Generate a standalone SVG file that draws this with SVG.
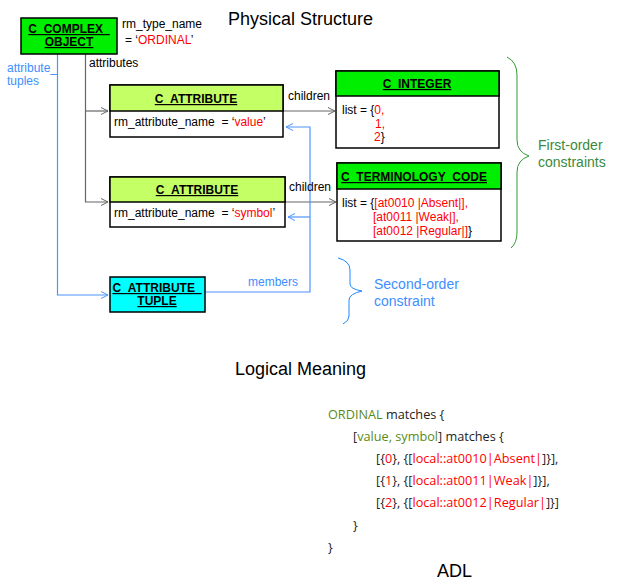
<svg xmlns="http://www.w3.org/2000/svg" width="621" height="586" viewBox="0 0 621 586">
<defs>
<marker id="ag" markerWidth="10" markerHeight="10" refX="8" refY="4" orient="auto" markerUnits="userSpaceOnUse"><path d="M1,0.5 L8,4 L1,7.5" fill="none" stroke="#666" stroke-width="1"/></marker>
<marker id="ab" markerWidth="10" markerHeight="10" refX="8" refY="4" orient="auto" markerUnits="userSpaceOnUse"><path d="M1,0.5 L8,4 L1,7.5" fill="none" stroke="#4d94ff" stroke-width="1"/></marker>
</defs>
<style>
text{font-family:"Liberation Sans",Arial,sans-serif;white-space:pre;}
.t{font-size:12px;fill:#000;}
.h{font-size:12px;font-weight:bold;text-decoration:underline;text-anchor:middle;fill:#000;}
.r{fill:#ff0000;}
.bl{fill:#3d8eff;}
.box{stroke:#000;stroke-width:1.5;}
.title{font-size:18px;fill:#000;}
.adl{font-family:"Open Sans","Noto Sans",sans-serif;font-size:12.7px;fill:#222;}
.g{fill:#5a8a1a;}
.gl{fill:none;stroke:#666;stroke-width:1.2;}
.bll{fill:none;stroke:#4d94ff;stroke-width:1.2;}
</style>
<rect width="621" height="586" fill="#fff"/>
<text class="title" x="228" y="25">Physical Structure</text>
<text class="title" x="235" y="375">Logical Meaning</text>
<text class="title" x="437" y="577">ADL</text>
<g id="connectors">
<path class="gl" d="M85.5,54 V202 H108" marker-end="url(#ag)"/>
<path class="gl" d="M85.5,111 H108" marker-end="url(#ag)"/>
<path class="gl" d="M283,111 H335" marker-end="url(#ag)"/>
<path class="gl" d="M285,202 H336" marker-end="url(#ag)"/>
<path class="bll" d="M57.5,54 V295 H108" marker-end="url(#ab)"/>
<path class="bll" d="M205,292 H310 V127 H286" marker-end="url(#ab)"/>
<path class="bll" d="M310,217 H288" marker-end="url(#ab)"/>
<text class="t" x="89" y="67">attributes</text>
<text class="t bl" x="7" y="72">attribute_</text>
<text class="t bl" x="7" y="85">tuples</text>
<text class="t" x="288" y="100">children</text>
<text class="t" x="289" y="191">children</text>
<text class="t bl" x="248" y="286">members</text>
</g>
<g id="c_complex_object">
<rect class="box" x="21" y="18" width="96" height="36" fill="#00ee00"/>
<text class="h" x="69" y="33">C_COMPLEX_</text>
<text class="h" x="69" y="46">OBJECT</text>
<text class="t" x="122" y="28">rm_type_name</text>
<text class="t" x="125" y="44">= ‘<tspan class="r">ORDINAL</tspan>’</text>
</g>
<g id="c_attribute_value">
<rect class="box" x="110" y="85" width="173" height="52" fill="#fff"/>
<rect class="box" x="110" y="85" width="173" height="26" fill="#c4ff66"/>
<text class="h" x="196" y="103">C_ATTRIBUTE</text>
<text class="t" x="114" y="126">rm_attribute_name  = ‘<tspan class="r">value</tspan>’</text>
</g>
<g id="c_attribute_symbol">
<rect class="box" x="110" y="177" width="175" height="50" fill="#fff"/>
<rect class="box" x="110" y="177" width="175" height="25" fill="#c4ff66"/>
<text class="h" x="197" y="194">C_ATTRIBUTE</text>
<text class="t" x="114" y="217">rm_attribute_name  = ‘<tspan class="r">symbol</tspan>’</text>
</g>
<g id="c_attribute_tuple">
<rect class="box" x="110" y="277" width="95" height="35" fill="#00ffff"/>
<text class="h" x="157" y="292">C_ATTRIBUTE_</text>
<text class="h" x="157" y="305">TUPLE</text>
</g>
<g id="c_integer">
<rect class="box" x="336" y="71" width="163" height="77" fill="#fff"/>
<rect class="box" x="336" y="71" width="163" height="25" fill="#00ee00"/>
<text class="h" x="417" y="88">C_INTEGER</text>
<text class="t" x="342" y="114">list = {<tspan class="r">0,</tspan></text>
<text class="t r" x="375" y="128">1,</text>
<text class="t" x="374" y="141"><tspan class="r">2</tspan>}</text>
</g>
<g id="c_terminology_code">
<rect class="box" x="337" y="163" width="164" height="78" fill="#fff"/>
<rect class="box" x="337" y="163" width="164" height="26" fill="#00ee00"/>
<text class="h" x="414" y="181">C_TERMINOLOGY_CODE</text>
<text class="t" x="342" y="207">list = {<tspan class="r">[at0010 |Absent|],</tspan></text>
<text class="t r" x="373" y="221">[at0011 |Weak|],</text>
<text class="t" x="373" y="235"><tspan class="r">[at0012 |Regular|]</tspan>}</text>
</g>
<g id="first_order">
<path d="M507,57 Q517,62 517,75 V140 Q517,152 529,156 Q517,160 517,172 V232 Q517,243 511,248" fill="none" stroke="#339933" stroke-width="1"/>
<text x="538" y="150" font-size="14" fill="#3a8a3a">First-order</text>
<text x="538" y="167" font-size="14" fill="#3a8a3a">constraints</text>
</g>
<g id="second_order">
<path d="M338,258 Q350,261 350,270 V284 Q350,289 362,291 Q349,294 349,300 V316 Q349,321 343,324" fill="none" stroke="#1e88ff" stroke-width="1"/>
<text x="374" y="289" font-size="14" fill="#3d8eff">Second-order</text>
<text x="374" y="306" font-size="14" fill="#3d8eff">constraint</text>
</g>
<g id="adl_text">
<text class="adl" x="328" y="419"><tspan class="g">ORDINAL</tspan> matches {</text>
<text class="adl" x="353" y="441">[<tspan class="g">value, symbol</tspan>] matches {</text>
<text class="adl" x="376" y="463">[{<tspan class="r">0</tspan>}, {[<tspan class="r">local::at0010|Absent|</tspan>]}],</text>
<text class="adl" x="376" y="485">[{<tspan class="r">1</tspan>}, {[<tspan class="r">local::at0011|Weak|</tspan>]}],</text>
<text class="adl" x="376" y="507">[{<tspan class="r">2</tspan>}, {[<tspan class="r">local::at0012|Regular|</tspan>]}]</text>
<text class="adl" x="353" y="530">}</text>
<text class="adl" x="328" y="552">}</text>
</g>
</svg>
